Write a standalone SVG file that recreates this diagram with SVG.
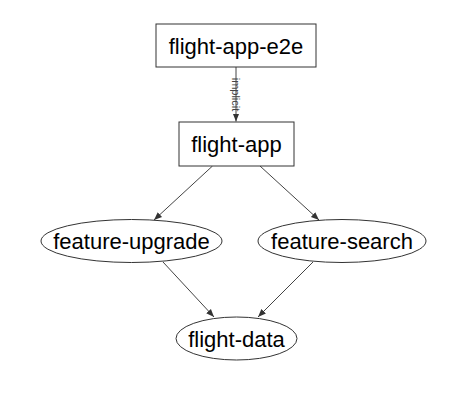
<svg xmlns="http://www.w3.org/2000/svg" width="473" height="406" viewBox="0 0 473 406">
<style>
.n{fill:#fff;stroke:#333;stroke-width:1}
.t{font-family:"Liberation Sans",Arial,sans-serif;font-size:22px;fill:#000;text-anchor:middle}
.e{stroke:#444;stroke-width:1;fill:none;marker-end:url(#a)}
.l{font-family:"Liberation Sans",Arial,sans-serif;font-size:11px;fill:#444;text-anchor:middle}
</style>
<defs>
<marker id="a" viewBox="0 0 10 10" refX="10" refY="5" markerWidth="8" markerHeight="8" markerUnits="userSpaceOnUse" orient="auto">
<path d="M0,1 L10,5 L0,9 z" fill="#333"/>
</marker>
</defs>
<rect width="473" height="406" fill="#fff"/>
<g id="connectors">
<line class="e" x1="236" y1="67" x2="236" y2="121.5"/>
<text class="l" transform="translate(232,94.5) rotate(90)">implicit</text>
<line class="e" x1="212.5" y1="166" x2="154" y2="220"/>
<line class="e" x1="260" y1="166" x2="319" y2="220"/>
<line class="e" x1="163" y1="262" x2="214" y2="317"/>
<line class="e" x1="313" y1="262" x2="258" y2="317"/>
</g>
<g id="flight-app-e2e">
<rect class="n" x="156" y="24" width="160" height="43"/>
<text class="t" x="236" y="53.5">flight-app-e2e</text>
</g>
<g id="flight-app">
<rect class="n" x="179" y="122" width="115" height="44"/>
<text class="t" x="236.5" y="151.5">flight-app</text>
</g>
<g id="feature-upgrade">
<ellipse class="n" cx="131.5" cy="241" rx="90.5" ry="21.5"/>
<text class="t" x="131.5" y="249">feature-upgrade</text>
</g>
<g id="feature-search">
<ellipse class="n" cx="342" cy="241" rx="84" ry="21.5"/>
<text class="t" x="342" y="249">feature-search</text>
</g>
<g id="flight-data">
<ellipse class="n" cx="236.5" cy="338.5" rx="60.5" ry="21.5"/>
<text class="t" x="236.5" y="346.5">flight-data</text>
</g>
</svg>
